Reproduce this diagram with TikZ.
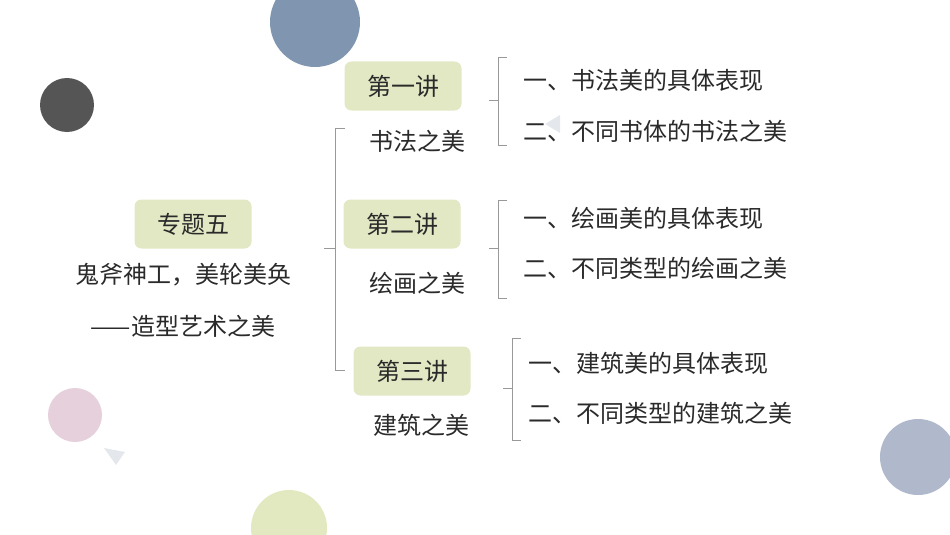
\documentclass[tikz,border=0pt]{standalone}
\usepackage{fontspec}
\setmainfont{Noto Sans CJK SC}
\usetikzlibrary{positioning}
\definecolor{boxgreen}{HTML}{E2E8C4}
\definecolor{txt}{HTML}{2A2A2A}
\begin{document}
\begin{tikzpicture}[x=1pt,y=-1pt,
    box/.style={fill=boxgreen,rounded corners=7pt,minimum width=117pt,minimum height=49pt,inner sep=0pt,text=txt,font=\fontsize{24}{26}\selectfont},
    lbl/.style={text=txt,inner sep=0pt,font=\fontsize{24}{26}\selectfont},
    item/.style={lbl,anchor=west},
    brace/.style={draw=gray!80,line width=0.8pt}]
    \useasboundingbox (0,0) rectangle (950,535);

    % decoration
    \fill[fill={rgb,255:red,128;green,150;blue,176}] (315,22) circle (45);
    \fill[fill={rgb,255:red,85;green,85;blue,85}] (67,105) circle (27);
    \fill[fill={rgb,255:red,230;green,208;blue,220}] (75,415) circle (27);
    \fill[fill={rgb,255:red,226;green,232;blue,192}] (289,528) circle (38);
    \fill[fill={rgb,255:red,176;green,184;blue,204}] (918,457) circle (38);
    \fill[fill={rgb,255:red,228;green,232;blue,236}] (104,448) -- (125,452) -- (116,465) -- cycle;
    \fill[fill={rgb,255:red,228;green,232;blue,236}] (545,124) -- (560,115) -- (560,133) -- cycle;

    % left
    \node[box] (topic) at (193,224) {专题五};
    \node[lbl] (title) at (183,275) {鬼斧神工，美轮美奂};
    \node[lbl] (sub)   at (183,326) {——造型艺术之美};

    % lectures
    \node[box] (l1) at (403,86)  {第一讲};
    \node[lbl] (n1) at (417,141) {书法之美};
    \node[box] (l2) at (402,224) {第二讲};
    \node[lbl] (n2) at (417,283) {绘画之美};
    \node[box] (l3) at (412,371) {第三讲};
    \node[lbl] (n3) at (421,425) {建筑之美};

    % items
    \node[item] (a1) at (523,80)  {一、书法美的具体表现};
    \node[item] (a2) at (523,131) {二、不同书体的书法之美};
    \node[item] (b1) at (523,218) {一、绘画美的具体表现};
    \node[item] (b2) at (523,268) {二、不同类型的绘画之美};
    \node[item] (c1) at (528,363) {一、建筑美的具体表现};
    \node[item] (c2) at (528,413) {二、不同类型的建筑之美};

    % brackets
    \draw[brace] (345,128) -- (335,128) -- (335,370) -- (345,370);
    \draw[brace] (335,248) -- (324,248);
    \foreach \x/\t/\b/\m in {498/57/145/100, 498/200/298/248, 512/338/440/388} {
        \draw[brace] (\x+9,\t) -- (\x,\t) -- (\x,\b) -- (\x+9,\b);
        \draw[brace] (\x,\m) -- (\x-9,\m);
    }
\end{tikzpicture}
\end{document}
